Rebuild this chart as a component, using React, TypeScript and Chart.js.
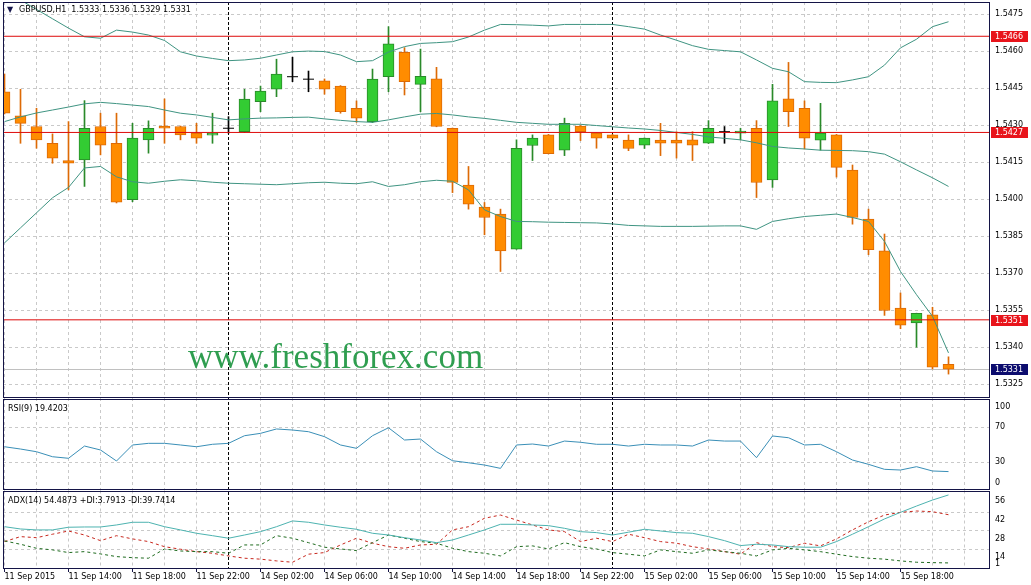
import React, { useEffect, useRef } from "react";
import { Chart, registerables } from "chart.js";
Chart.register(...registerables);

// ---------- data ----------
const SYMBOL_TITLE = "GBPUSD,H1  1.5333 1.5336 1.5329 1.5331";
const RSI_TITLE = "RSI(9) 19.4203";
const ADX_TITLE = "ADX(14) 54.4873 +DI:3.7913 -DI:39.7414";
const WATERMARK = "www.freshforex.com";

const OPEN = [1.54435, 1.54337, 1.54294, 1.54226, 1.54156, 1.54159, 1.54294, 1.54226, 1.53997, 1.5424, 1.54296, 1.54294, 1.54267, 1.54259, 1.54287, 1.54273, 1.54395, 1.54445, 1.54496, 1.54486, 1.54479, 1.54458, 1.54368, 1.54314, 1.54496, 1.54595, 1.54465, 1.54487, 1.54287, 1.54057, 1.53967, 1.53939, 1.53797, 1.54217, 1.5426, 1.54198, 1.54296, 1.54267, 1.5426, 1.54239, 1.54218, 1.54239, 1.54239, 1.5424, 1.54226, 1.54273, 1.54267, 1.54287, 1.54077, 1.54406, 1.54368, 1.54239, 1.5426, 1.54117, 1.53919, 1.5379, 1.53558, 1.53497, 1.5353, 1.5333];
const HIGH = [1.54507, 1.54445, 1.54368, 1.54264, 1.54314, 1.54399, 1.54348, 1.54348, 1.54307, 1.54317, 1.54406, 1.54296, 1.54307, 1.54348, 1.54334, 1.54445, 1.54458, 1.54567, 1.54575, 1.54519, 1.54487, 1.5446, 1.54398, 1.54527, 1.54699, 1.54614, 1.54608, 1.54534, 1.54288, 1.54132, 1.53986, 1.53959, 1.5424, 1.5426, 1.54262, 1.54328, 1.54298, 1.54268, 1.54262, 1.5426, 1.54248, 1.54307, 1.54273, 1.54273, 1.54318, 1.54294, 1.54287, 1.54318, 1.54465, 1.54554, 1.54398, 1.54388, 1.54262, 1.54138, 1.53959, 1.53858, 1.53619, 1.53537, 1.53561, 1.5336];
const LOW = [1.54345, 1.54226, 1.54206, 1.54145, 1.54037, 1.54051, 1.54179, 1.53984, 1.53989, 1.54186, 1.54226, 1.5424, 1.54226, 1.54226, 1.54267, 1.54269, 1.54354, 1.54415, 1.54476, 1.54435, 1.54425, 1.54348, 1.54311, 1.5431, 1.54435, 1.54422, 1.54354, 1.54293, 1.54026, 1.53959, 1.53855, 1.53706, 1.53796, 1.54156, 1.54183, 1.54176, 1.54237, 1.54206, 1.54246, 1.54196, 1.54205, 1.54176, 1.54166, 1.54156, 1.54225, 1.54226, 1.5424, 1.54006, 1.54047, 1.54294, 1.54203, 1.54198, 1.54089, 1.53898, 1.53774, 1.53528, 1.53474, 1.53399, 1.53311, 1.5329];
const CLOSE = [1.54348, 1.54307, 1.5424, 1.54166, 1.54145, 1.54287, 1.54218, 1.53987, 1.54247, 1.54287, 1.54287, 1.5426, 1.54247, 1.54267, 1.54287, 1.54405, 1.54438, 1.54507, 1.54496, 1.54486, 1.54445, 1.54354, 1.54328, 1.54486, 1.54629, 1.54476, 1.54498, 1.54294, 1.54067, 1.53979, 1.53925, 1.53789, 1.54206, 1.54247, 1.54184, 1.54307, 1.54273, 1.54247, 1.54247, 1.54205, 1.54247, 1.54226, 1.54226, 1.54218, 1.54287, 1.54273, 1.54276, 1.54067, 1.54398, 1.54354, 1.54247, 1.54267, 1.54128, 1.53925, 1.53795, 1.53548, 1.53488, 1.53536, 1.53318, 1.5331];

const BB_UPPER = [1.54843, 1.54807, 1.54769, 1.54731, 1.54693, 1.54658, 1.54652, 1.54685, 1.54677, 1.54665, 1.54643, 1.54597, 1.5458, 1.5457, 1.54561, 1.54564, 1.54571, 1.54584, 1.54597, 1.546, 1.54598, 1.54584, 1.54557, 1.54561, 1.54596, 1.54618, 1.54631, 1.54634, 1.54638, 1.54657, 1.54685, 1.54708, 1.54707, 1.54705, 1.54702, 1.54708, 1.54708, 1.54708, 1.54708, 1.54699, 1.54689, 1.54665, 1.54644, 1.54622, 1.54607, 1.54602, 1.54597, 1.54564, 1.5453, 1.54516, 1.54476, 1.54473, 1.54472, 1.54483, 1.54496, 1.54543, 1.54613, 1.54648, 1.54699, 1.54719];
const BB_MIDDLE = [1.54314, 1.54333, 1.54349, 1.54361, 1.54373, 1.54386, 1.54392, 1.54387, 1.54381, 1.54375, 1.54361, 1.54348, 1.54341, 1.54331, 1.54321, 1.54325, 1.54328, 1.54329, 1.54331, 1.54332, 1.54325, 1.54319, 1.54314, 1.54311, 1.54321, 1.54333, 1.54344, 1.54347, 1.54341, 1.54333, 1.54327, 1.54319, 1.54311, 1.54307, 1.54303, 1.54303, 1.54303, 1.54298, 1.54293, 1.54288, 1.54284, 1.54278, 1.5427, 1.54262, 1.54252, 1.54246, 1.5424, 1.54228, 1.54213, 1.54207, 1.54203, 1.54198, 1.54197, 1.54196, 1.54192, 1.54182, 1.54151, 1.54118, 1.54086, 1.54051];
const BB_LOWER = [1.53822, 1.53883, 1.53944, 1.54005, 1.54047, 1.54126, 1.54132, 1.5409, 1.5407, 1.54064, 1.54072, 1.54078, 1.54074, 1.54068, 1.54064, 1.54062, 1.5406, 1.54058, 1.54062, 1.54066, 1.54068, 1.54064, 1.54062, 1.5407, 1.54051, 1.54058, 1.5407, 1.54076, 1.54072, 1.54037, 1.53956, 1.53929, 1.53909, 1.53908, 1.53906, 1.53905, 1.53904, 1.53903, 1.53899, 1.53893, 1.53891, 1.53889, 1.53889, 1.53889, 1.5389, 1.53891, 1.53891, 1.53877, 1.53909, 1.5392, 1.53929, 1.53934, 1.53939, 1.53925, 1.53909, 1.53828, 1.53706, 1.53612, 1.53524, 1.53376];

const RSI = [47.8, 45.2, 42.1, 36.4, 34.6, 48.6, 44.1, 31.5, 49.8, 51.7, 51.7, 49.8, 47.8, 50.6, 51.7, 60.4, 63.1, 68.1, 66.9, 65.0, 59.3, 49.8, 46.0, 60.4, 69.5, 55.5, 56.6, 42.1, 31.8, 29.5, 26.9, 23.1, 49.8, 50.9, 48.6, 54.3, 52.9, 50.6, 50.6, 48.6, 50.6, 49.8, 49.8, 48.6, 55.5, 54.3, 54.3, 35.3, 60.1, 58.1, 49.8, 50.6, 42.1, 32.6, 27.7, 22.0, 21.2, 25.0, 20.1, 19.42];
const ADX = [30.8, 29.1, 28.4, 28.4, 30.4, 30.6, 30.6, 32.1, 34.1, 34.1, 30.8, 28.4, 25.9, 24.1, 22.2, 24.6, 27.1, 30.8, 35.1, 34.1, 32.1, 30.4, 28.9, 25.9, 24.6, 22.6, 20.9, 18.9, 20.9, 24.6, 28.4, 32.6, 32.6, 32.1, 31.6, 29.6, 27.1, 26.4, 24.6, 26.7, 28.9, 27.6, 26.4, 25.9, 23.4, 20.4, 16.7, 17.7, 17.2, 15.9, 15.5, 15.5, 19.7, 25.2, 30.8, 36.6, 41.5, 46.2, 50.7, 54.49];
const PLUS_DI = [20.2, 17.7, 14.7, 13.5, 11.5, 12.2, 10.5, 8.5, 7.7, 7.3, 14.2, 12.7, 12.2, 12.2, 11.0, 17.2, 17.2, 24.1, 22.2, 18.9, 15.5, 14.2, 13.0, 18.9, 24.6, 22.2, 19.7, 18.5, 14.7, 12.2, 11.0, 9.0, 15.9, 16.5, 14.2, 18.9, 15.9, 14.2, 11.5, 10.3, 9.0, 13.5, 12.2, 11.0, 13.5, 12.2, 11.0, 9.0, 13.5, 14.7, 13.5, 12.2, 10.3, 8.5, 7.3, 6.6, 5.3, 4.3, 4.0, 3.79];
const MINUS_DI = [19.7, 23.4, 22.6, 25.2, 27.6, 24.6, 20.4, 24.1, 21.7, 19.7, 15.9, 14.0, 12.2, 11.0, 9.0, 7.3, 6.6, 5.3, 4.3, 10.3, 11.5, 17.2, 22.2, 18.5, 15.9, 14.7, 17.2, 17.7, 28.4, 30.8, 37.1, 39.5, 35.8, 32.1, 28.4, 27.1, 19.7, 22.2, 19.7, 25.2, 22.6, 19.7, 18.5, 15.9, 14.2, 12.2, 10.3, 18.9, 15.9, 15.2, 18.5, 16.5, 21.7, 28.4, 34.5, 39.5, 41.5, 42.5, 42.0, 39.74];

const TIME_LABELS = ["11 Sep 2015", "11 Sep 14:00", "11 Sep 18:00", "11 Sep 22:00", "14 Sep 02:00", "14 Sep 06:00", "14 Sep 10:00", "14 Sep 14:00", "14 Sep 18:00", "14 Sep 22:00", "15 Sep 02:00", "15 Sep 06:00", "15 Sep 10:00", "15 Sep 14:00", "15 Sep 18:00"];
const LABEL_EVERY = 4;
const GRID_EVERY = 2;
const SEPARATOR_BARS = [14, 38];
const PRICE_TICKS = [1.5325, 1.534, 1.5355, 1.537, 1.5385, 1.54, 1.5415, 1.543, 1.5445, 1.546, 1.5475];
const LEVELS = [1.5466, 1.5427, 1.5351];
const BID = 1.5331;
const RSI_GRID = [30, 70];
const RSI_LABELS = [100, 70, 30, 0];
const ADX_GRID = [14, 28, 42];
const ADX_LABELS = [56, 42, 28, 14];
const ADX_MIN_LABEL = 1;

// ---------- style ----------
const FONT = "DejaVu Sans";
const BULL_FILL = "#33cc33";
const BULL_EDGE = "#2a8a2a";
const BEAR_FILL = "#ff8c00";
const BEAR_EDGE = "#dd6a06";
const BAND = "#3f9482";
const RSI_COLOR = "#3a8fb7";
const ADX_COLOR = "#4db3b0";
const PDI_COLOR = "#1f6b1f";
const MDI_COLOR = "#c8281e";
const LEVEL_COLOR = "#dd0a0a";
const FRAME = "#141446";
const GRID = "#c9c9c9";

const X_MIN = -0.09375;
const X_MAX = 61.53125;

export default function App() {
  const ref = useRef<HTMLCanvasElement>(null);

  useEffect(() => {
    document.body.style.margin = "0";
    const canvas = ref.current;
    if (!canvas) return;
    const idx = OPEN.map((_, i) => i);
    const isDoji = (i: number) => OPEN[i] === CLOSE[i];
    const isBull = (i: number) => CLOSE[i] > OPEN[i];
    const edge = (i: number) => (isDoji(i) ? "#000000" : isBull(i) ? BULL_EDGE : BEAR_EDGE);

    const fixWidth = (s: any) => {
      s.width = 42;
      s.paddingTop = 0;
      s.paddingBottom = 0;
      s.paddingLeft = 0;
      s.paddingRight = 0;
    };

    const line = (label: string, data: number[], yAxisID: string, color: string, dash: number[] = []) => ({
      type: "line" as const,
      label,
      data: data.map((v, i) => ({ x: i, y: v })),
      yAxisID,
      borderColor: color,
      borderWidth: 1,
      borderDash: dash,
      pointRadius: 0,
      tension: 0,
      order: 1,
    });

    const panels = {
      id: "panels",
      beforeDraw(chart: any) {
        const { ctx, width, height } = chart;
        ctx.save();
        ctx.fillStyle = "#ffffff";
        ctx.fillRect(0, 0, width, height);
        ctx.restore();
      },
      beforeDatasetsDraw(chart: any) {
        const { ctx, chartArea } = chart;
        const xs = chart.scales.x;
        const y = chart.scales.y;
        const rsi = chart.scales.rsi;
        const adx = chart.scales.adx;
        ctx.save();
        ctx.lineWidth = 1;
        ctx.strokeStyle = GRID;
        ctx.setLineDash([3, 3]);
        const hline = (py: number) => {
          const yy = Math.round(py) + 0.5;
          ctx.beginPath();
          ctx.moveTo(chartArea.left, yy);
          ctx.lineTo(chartArea.right, yy);
          ctx.stroke();
        };
        PRICE_TICKS.forEach((p) => hline(y.getPixelForValue(p)));
        RSI_GRID.forEach((v) => hline(rsi.getPixelForValue(v)));
        ADX_GRID.forEach((v) => hline(adx.getPixelForValue(v)));
        for (let b = 0; b < OPEN.length + 2; b += GRID_EVERY) {
          if (SEPARATOR_BARS.includes(b)) continue;
          const px = Math.floor(xs.getPixelForValue(b)) + 0.5;
          [y, rsi, adx].forEach((s) => {
            ctx.beginPath();
            ctx.moveTo(px, s.top);
            ctx.lineTo(px, s.bottom);
            ctx.stroke();
          });
        }
        // bid line
        ctx.setLineDash([]);
        ctx.strokeStyle = "#c0c0c0";
        hline(y.getPixelForValue(BID));
        // separators
        ctx.strokeStyle = "#000000";
        ctx.setLineDash([3, 2]);
        SEPARATOR_BARS.forEach((b) => {
          const px = Math.floor(xs.getPixelForValue(b)) + 0.5;
          ctx.beginPath();
          ctx.moveTo(px, chartArea.top);
          ctx.lineTo(px, chartArea.bottom);
          ctx.stroke();
        });
        ctx.setLineDash([]);
        // watermark
        ctx.fillStyle = "#2f9e50";
        ctx.font = `35px "Liberation Serif"`;
        ctx.textBaseline = "alphabetic";
        ctx.textAlign = "left";
        ctx.fillText(WATERMARK, 188, 368);
        ctx.restore();
      },
      afterDraw(chart: any) {
        const { ctx, chartArea } = chart;
        const xs = chart.scales.x;
        const y = chart.scales.y;
        const rsi = chart.scales.rsi;
        const adx = chart.scales.adx;
        ctx.save();
        // frames
        ctx.strokeStyle = FRAME;
        ctx.lineWidth = 1;
        const L = chartArea.left + 0.5;
        const R = chartArea.right + 0.5;
        const frame = (t: number, b: number) => {
          ctx.strokeRect(L, t, R - L, b - t);
        };
        frame(y.top + 0.5, y.bottom - 0.5);
        frame(rsi.top + 1.5, rsi.bottom - 1);
        frame(adx.top + 1, adx.bottom + 0.5);
        // x tick marks
        for (let b = 0; b < OPEN.length; b += LABEL_EVERY) {
          const px = Math.floor(xs.getPixelForValue(b)) + 0.5;
          ctx.beginPath();
          ctx.moveTo(px, chartArea.bottom);
          ctx.lineTo(px, chartArea.bottom + 4);
          ctx.stroke();
        }
        // titles
        ctx.fillStyle = "#000000";
        ctx.font = `8px "${FONT}"`;
        ctx.textBaseline = "middle";
        ctx.textAlign = "left";
        ctx.fillStyle = "#14144a";
        ctx.fillText("\u25BC", 7, 10);
        ctx.fillStyle = "#000000";
        ctx.fillText(SYMBOL_TITLE, 19, 10);
        ctx.fillText(RSI_TITLE, 8, rsi.top + 11);
        ctx.fillText(ADX_TITLE, 8, adx.top + 10.5);
        // indicator axis labels
        const lx = chartArea.right + 6;
        RSI_LABELS.forEach((v) => {
          let py = rsi.getPixelForValue(v);
          py = Math.max(rsi.top + 8.5, Math.min(rsi.bottom - 8, py));
          ctx.fillText(String(v), lx, py);
        });
        ADX_LABELS.forEach((v) => {
          ctx.fillText(String(v), lx, adx.getPixelForValue(v) + 8);
        });
        ctx.fillText(String(ADX_MIN_LABEL), lx, adx.getPixelForValue(ADX_MIN_LABEL) - 3);
        // price tags
        const tag = (p: number, bg: string) => {
          const py = Math.round(y.getPixelForValue(p));
          ctx.fillStyle = bg;
          ctx.fillRect(chartArea.right + 2, py - 5, 37, 11);
          ctx.fillStyle = "#ffffff";
          ctx.fillText(p.toFixed(4), chartArea.right + 6, py + 0.5);
        };
        LEVELS.forEach((p) => tag(p, "#e8141b"));
        tag(BID, "#0c0c6e");
        ctx.restore();
      },
    };

    const chart = new Chart(canvas, {
      type: "bar",
      data: {
        datasets: [
          ...LEVELS.map((p, k) => ({
            type: "line" as const,
            label: "level" + k,
            data: [
              { x: X_MIN, y: p },
              { x: X_MAX, y: p },
            ],
            yAxisID: "y",
            borderColor: LEVEL_COLOR,
            borderWidth: 1,
            pointRadius: 0,
            order: 0,
          })),
          line("upper", BB_UPPER, "y", BAND),
          line("middle", BB_MIDDLE, "y", BAND),
          line("lower", BB_LOWER, "y", BAND),
          line("rsi", RSI, "rsi", RSI_COLOR),
          line("adx", ADX, "adx", ADX_COLOR),
          line("+di", PLUS_DI, "adx", PDI_COLOR, [3, 3]),
          line("-di", MINUS_DI, "adx", MDI_COLOR, [3, 3]),
          {
            type: "scatter" as const,
            label: "doji",
            data: idx.filter(isDoji).map((i) => ({ x: i, y: OPEN[i] })),
            yAxisID: "y",
            pointStyle: "line",
            pointRadius: 5.5,
            borderColor: "#000000",
            borderWidth: 1,
            order: 2,
          },
          {
            type: "bar" as const,
            label: "body",
            data: idx.filter((i) => !isDoji(i)).map((i) => ({ x: i, y: [OPEN[i], CLOSE[i]] })) as any,
            yAxisID: "y",
            backgroundColor: (c: any) => (c.raw && isBull(c.raw.x) ? BULL_FILL : BEAR_FILL),
            borderColor: (c: any) => (c.raw ? edge(c.raw.x) : BEAR_EDGE),
            borderWidth: 1,
            borderSkipped: false,
            barThickness: 11,
            grouped: false,
            order: 3,
          },
          {
            type: "bar" as const,
            label: "wick",
            data: idx.map((i) => ({ x: i, y: [LOW[i], HIGH[i]] })) as any,
            yAxisID: "y",
            backgroundColor: (c: any) => (c.raw ? edge(c.raw.x) : BEAR_EDGE),
            borderWidth: 0,
            barThickness: 1,
            grouped: false,
            order: 4,
          },
        ] as any,
      },
      options: {
        responsive: false,
        animation: false,
        devicePixelRatio: 1,
        events: [],
        layout: { padding: { left: 3, top: 2, right: 0, bottom: 0 }, autoPadding: false },
        plugins: { legend: { display: false }, tooltip: { enabled: false }, title: { display: false } },
        scales: {
          x: {
            type: "linear",
            position: "bottom",
            min: X_MIN,
            max: X_MAX,
            offset: false,
            grid: { display: false, drawTicks: false, offset: false },
            border: { display: false },
            afterBuildTicks: (s: any) => {
              s.ticks = TIME_LABELS.map((_, k) => ({ value: k * LABEL_EVERY }));
            },
            afterFit: (s: any) => {
              s.height = 17;
              s.paddingLeft = 0;
              s.paddingRight = 0;
            },
            ticks: {
              autoSkip: false,
              maxRotation: 0,
              minRotation: 0,
              align: "start",
              padding: 4,
              color: "#000000",
              font: { family: FONT, size: 8 },
              callback: (v: any) => TIME_LABELS[Math.round(Number(v) / LABEL_EVERY)] ?? "",
            },
          },
          y: {
            type: "linear",
            position: "right",
            stack: "panes",
            stackWeight: 396,
            weight: 0,
            min: 1.53193,
            max: 1.54799,
            beginAtZero: false,
            grid: { display: false, drawTicks: false },
            border: { display: false },
            afterBuildTicks: (s: any) => {
              s.ticks = PRICE_TICKS.map((v) => ({ value: v }));
            },
            afterFit: fixWidth,
            ticks: {
              padding: 6,
              color: "#000000",
              font: { family: FONT, size: 8 },
              callback: (v: any) => Number(v).toFixed(4),
            },
          },
          rsi: {
            type: "linear",
            position: "right",
            stack: "panes",
            stackWeight: 92.5,
            weight: 1,
            min: -2.2,
            max: 103.5,
            beginAtZero: false,
            grid: { display: false, drawTicks: false },
            border: { display: false },
            afterFit: fixWidth,
            ticks: { display: false },
          },
          adx: {
            type: "linear",
            position: "right",
            stack: "panes",
            stackWeight: 77.5,
            weight: 2,
            min: 0,
            max: 57.8,
            beginAtZero: false,
            grid: { display: false, drawTicks: false },
            border: { display: false },
            afterFit: fixWidth,
            ticks: { display: false },
          },
        },
      } as any,
      plugins: [panels],
    });
    return () => chart.destroy();
  }, []);

  return (
    <div style={{ position: "absolute", left: 0, top: 0, width: 1031, height: 585, background: "#ffffff" }}>
      <canvas ref={ref} width={1031} height={585} style={{ display: "block" }} />
    </div>
  );
}
